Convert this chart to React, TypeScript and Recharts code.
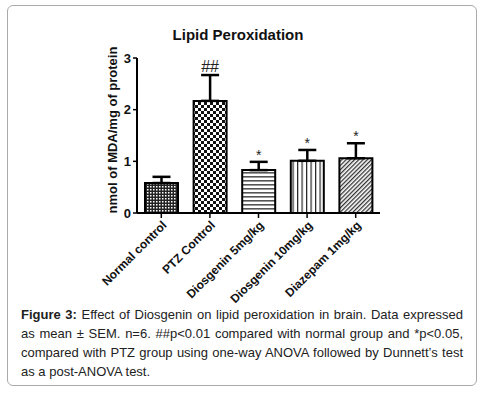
import { BarChart, Bar, XAxis, YAxis, Cell, ErrorBar, LabelList } from 'recharts'

const categories = ['Normal control', 'PTZ Control', 'Diosgenin 5mg/kg', 'Diosgenin 10mg/kg', 'Diazepam 1mg/kg']
const means = [0.58, 2.17, 0.83, 1.01, 1.06]
const sems = [0.12, 0.5, 0.16, 0.21, 0.29]
const marks = ['', '##', '*', '*', '*']
const yTicks = [0, 1, 2, 3]
const patternIds = ['pFine', 'pChecker', 'pHoriz', 'pVert', 'pDiag']

const data = categories.map((name, i) => ({
  name,
  mean: means[i],
  err: [0, sems[i]],
  mark: marks[i],
}))

const FONT = '"Liberation Sans", Arial, sans-serif'

const XTick = (props: any) => {
  const { x, y, payload } = props
  return (
    <g transform={`translate(${x + 6},${y + 6})`}>
      <text textAnchor="end" transform="rotate(-45)" fontFamily={FONT} fontSize={12} fontWeight="bold" fill="#111">
        {payload.value}
      </text>
    </g>
  )
}

const MarkLabel = (props: any) => {
  const { x, y, width, height, index, value } = props
  if (!value) return null
  const pxPerUnit = height / means[index]
  const top = y - sems[index] * pxPerUnit
  const big = value === '##'
  return (
    <text
      x={x + width / 2}
      y={top - (big ? 3 : 2)}
      textAnchor="middle"
      fontFamily={FONT}
      fontSize={big ? 16 : 14}
      fill="#222"
    >
      {value}
    </text>
  )
}

export default function App() {
  return (
    <div style={{ position: 'absolute', left: 0, top: 0, width: 485, height: 398, background: '#fff', fontFamily: FONT }}>
      <div
        style={{
          position: 'absolute',
          left: 7,
          top: 5,
          width: 470,
          height: 381,
          border: '1px solid #aaa',
          borderRadius: 6,
          boxSizing: 'border-box',
        }}
      />
      <div style={{ position: 'absolute', left: 0, top: 0 }}>
        <BarChart width={485} height={320} data={data} margin={{ top: 58, right: 105, bottom: 0, left: 60 }} barSize={33}>
          <defs>
            <pattern id="pFine" width="3" height="3" patternUnits="userSpaceOnUse">
              <rect width="3" height="3" fill="#222" />
              <rect x="0" y="0" width="1.5" height="1.5" fill="#fff" />
            </pattern>
            <pattern id="pChecker" width="6" height="6" patternUnits="userSpaceOnUse">
              <rect width="6" height="6" fill="#fff" />
              <rect x="0" y="0" width="3" height="3" fill="#111" />
              <rect x="3" y="3" width="3" height="3" fill="#111" />
            </pattern>
            <pattern id="pHoriz" width="4" height="4" patternUnits="userSpaceOnUse">
              <rect width="4" height="4" fill="#fff" />
              <rect x="0" y="0" width="4" height="1.6" fill="#555" />
            </pattern>
            <pattern id="pVert" width="4.5" height="4.5" patternUnits="userSpaceOnUse">
              <rect width="4.5" height="4.5" fill="#fff" />
              <rect x="0" y="0" width="1.2" height="4.5" fill="#222" />
            </pattern>
            <pattern id="pDiag" width="3" height="3" patternUnits="userSpaceOnUse" patternTransform="rotate(45)">
              <rect width="3" height="3" fill="#fff" />
              <rect x="0" y="0" width="1.3" height="3" fill="#333" />
            </pattern>
          </defs>
          <text x={238} y={40} textAnchor="middle" fontFamily={FONT} fontSize={15} fontWeight="bold" fill="#111">
            Lipid Peroxidation
          </text>
          <text
            x={112}
            y={130}
            textAnchor="middle"
            dominantBaseline="central"
            transform="rotate(-90 112 130)"
            fontFamily={FONT}
            fontSize={13}
            fontWeight="bold"
            fill="#111"
          >
            nmol of MDA/mg of protein
          </text>
          <XAxis
            dataKey="name"
            height={107}
            interval={0}
            tick={<XTick />}
            tickSize={5}
            axisLine={{ stroke: '#000', strokeWidth: 2 }}
            tickLine={{ stroke: '#000', strokeWidth: 1.5 }}
          />
          <YAxis
            width={77}
            domain={[0, 3]}
            ticks={yTicks}
            tickSize={4}
            tickMargin={2}
            axisLine={{ stroke: '#000', strokeWidth: 2 }}
            tickLine={{ stroke: '#000', strokeWidth: 1.5 }}
            tick={{ fontFamily: FONT, fontSize: 13, fontWeight: 'bold', fill: '#111' }}
          />
          <Bar dataKey="mean" stroke="#000" strokeWidth={2} isAnimationActive={false}>
            {data.map((d, i) => (
              <Cell key={d.name} fill={`url(#${patternIds[i]})`} />
            ))}
            <ErrorBar dataKey="err" direction="y" width={9} stroke="#000" strokeWidth={2.5} />
            <LabelList dataKey="mark" content={<MarkLabel />} />
          </Bar>
        </BarChart>
      </div>
      <div
        style={{
          position: 'absolute',
          left: 21,
          top: 305,
          width: 442,
          fontSize: 13,
          lineHeight: '19px',
          color: '#222',
          textAlign: 'justify',
        }}
      >
        <b>Figure 3: </b>Effect of Diosgenin on lipid peroxidation in brain. Data expressed as mean ± SEM. n=6. ##p&lt;0.01
        compared with normal group and *p&lt;0.05, compared with PTZ group using one-way ANOVA followed by Dunnett’s test
        as a post-ANOVA test.
      </div>
    </div>
  )
}
